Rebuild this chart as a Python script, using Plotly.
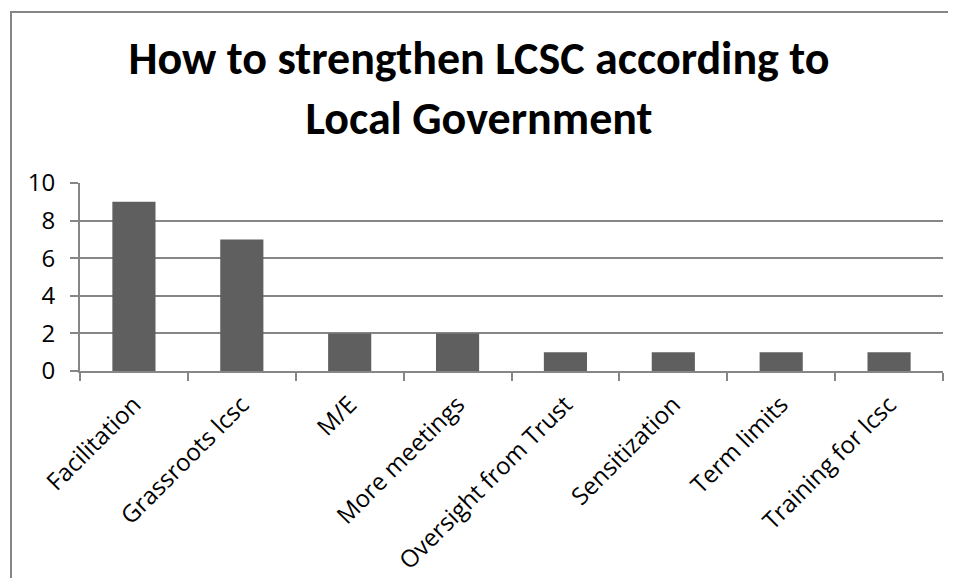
import plotly.graph_objects as go

categories = ["Facilitation", "Grassroots lcsc", "M/E", "More meetings",
              "Oversight from Trust", "Sensitization", "Term limits", "Training for lcsc"]
values = [9, 7, 2, 2, 1, 1, 1, 1]
title_text = "How to strengthen LCSC according to<br>Local Government"

# page has an 8px body margin, so the figure is sized and offset to compensate
W, H = 940, 570
L, R, T, B = 72, 5, 175, 207
pw = W - L - R
ph = H - T - B

def px(x):
    return (x - L) / pw

def py(y):
    return (H - B - y) / ph

TITLE_FONT = "Carlito, Calibri, Lato, sans-serif"
TICK_FONT = "Open Sans, sans-serif"
GRID = "#868686"

fig = go.Figure(go.Bar(x=categories, y=values, marker_color="#5f5f5f",
                       marker_line_width=0))

fig.update_layout(
    width=W, height=H,
    margin=dict(l=L, r=R, t=T, b=B, autoexpand=False),
    paper_bgcolor="white", plot_bgcolor="white",
    bargap=0.6,
    showlegend=False,
    font=dict(family=TICK_FONT, color="black"),
    title=dict(text="<b>" + title_text + "</b>", x=471 / W, xref="container", xanchor="center",
               y=1 - 66 / H, yref="container", yanchor="middle",
               font=dict(family=TITLE_FONT, size=46, color="black")),
    xaxis=dict(showline=True, linecolor=GRID, linewidth=2, automargin=False,
               ticks="outside", tickson="boundaries", ticklen=8, tickcolor=GRID, tickwidth=2,
               tickangle=-45, tickfont=dict(size=24), showgrid=False, ticklabelstandoff=8),
    yaxis=dict(range=[0, 10], dtick=2, showline=True, linecolor=GRID, linewidth=2, automargin=False,
               ticks="outside", ticklen=8, tickcolor=GRID, tickwidth=2,
               showgrid=True, gridcolor=GRID, gridwidth=1.5, zeroline=False,
               tickfont=dict(size=24), ticklabelstandoff=10),
    shapes=[dict(type="rect", xref="paper", yref="paper",
                 x0=px(3), x1=px(W + 300), y0=py(H + 300), y1=py(4),
                 line=dict(color=GRID, width=2), fillcolor="rgba(0,0,0,0)", layer="below")],
)

fig.write_html("out.html")
